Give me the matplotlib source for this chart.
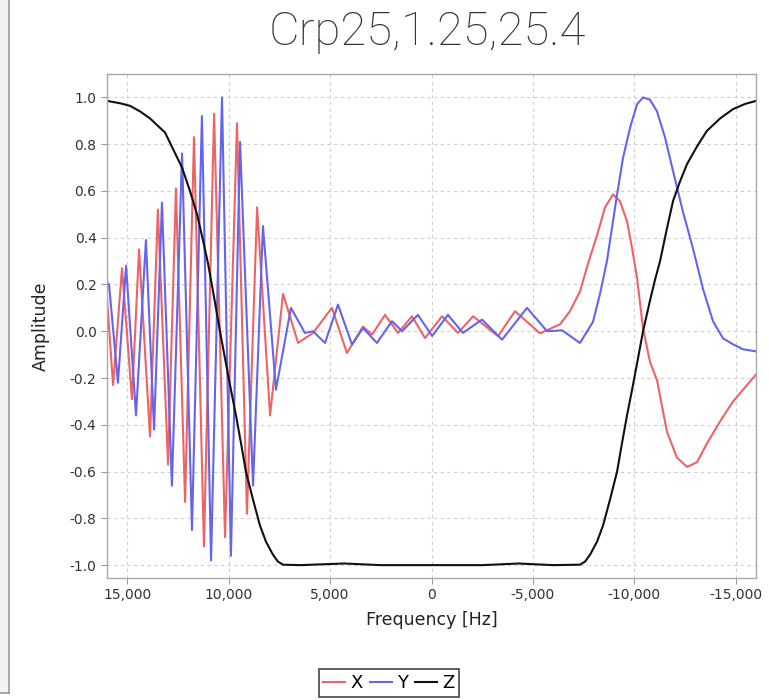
import matplotlib
matplotlib.use("Agg")
import matplotlib.pyplot as plt
from matplotlib.patches import Rectangle
from matplotlib.lines import Line2D
from matplotlib.ticker import FuncFormatter, MultipleLocator

title = "Crp25,1.25,25.4"

# X channel (red): vertices of the trace, frequency in Hz
x_freq = [16000, 15700, 15260, 14770, 14420, 13880, 13490, 12990, 12600, 12150,
          11710, 11220, 10720, 10180, 9590, 9100, 8600, 7960, 7320, 6580,
          5840, 4910, 4170, 3380, 2930, 2290, 1650, 960, 320, -520,
          -1310, -2050, -3280, -4120, -5350, -6340, -6830, -7320, -7720, -8160,
          -8560, -8950, -9290, -9640, -9890, -10130, -10430, -10770, -11120, -11610,
          -12100, -12600, -13090, -13580, -14230, -14870, -16000]
x_amp = [0.14, -0.23, 0.27, -0.29, 0.35, -0.45, 0.52, -0.57, 0.61, -0.73,
         0.83, -0.92, 0.93, -0.88, 0.89, -0.78, 0.53, -0.36, 0.16, -0.05,
         -0.007, 0.10, -0.093, 0.02, -0.014, 0.07, -0.007, 0.064, -0.029, 0.064,
         -0.007, 0.064, -0.021, 0.086, -0.009, 0.03, 0.086, 0.17, 0.29, 0.41,
         0.53, 0.585, 0.557, 0.47, 0.355, 0.23, 0.013, -0.13, -0.21, -0.43,
         -0.54, -0.58, -0.56, -0.48, -0.385, -0.30, -0.185]

# Y channel (blue)
y_freq = [16000, 15900, 15460, 15060, 14570, 14080, 13680, 13290, 12800, 12300,
          11810, 11320, 10870, 10330, 9890, 9440, 8800, 8310, 7670, 6930,
          6240, 5840, 5250, 4610, 3920, 3380, 2690, 1950, 1450, 670,
          -30, -810, -1550, -2490, -3480, -4710, -5700, -6440, -7320, -7960,
          -8310, -8650, -9150, -9440, -9790, -10130, -10430, -10770, -11120, -11510,
          -11910, -12400, -12890, -13390, -13880, -14370, -14870, -15360, -16000]
y_amp = [0.21, 0.2, -0.22, 0.28, -0.36, 0.39, -0.42, 0.55, -0.66, 0.76,
         -0.85, 0.92, -0.98, 1.0, -0.96, 0.81, -0.66, 0.45, -0.25, 0.10,
         -0.007, 0.0, -0.05, 0.114, -0.057, 0.014, -0.05, 0.043, 0.0, 0.07,
         -0.02, 0.07, -0.007, 0.05, -0.036, 0.10, 0.0, 0.004, -0.05, 0.04,
         0.16, 0.30, 0.585, 0.74, 0.87, 0.97, 1.0, 0.99, 0.94, 0.83,
         0.685, 0.51, 0.355, 0.18, 0.043, -0.03, -0.056, -0.077, -0.086]

# Z channel (black)
z_freq = [16000, 15360, 14870, 14370, 13880, 13390, 13140, 12750, 12300, 11910,
          11560, 11270, 11020, 10770, 10430, 10130, 9890, 9640, 9390, 9150,
          8800, 8460, 8160, 7820, 7570, 7320, 6480, 4300, 2500, 0,
          -2500, -4300, -6000, -7320, -7570, -7820, -8160, -8460, -8800, -9150,
          -9390, -9640, -9890, -10130, -10430, -10770, -11020, -11270, -11610, -11910,
          -12250, -12600, -13090, -13580, -14230, -14870, -15460, -16000]
z_amp = [0.985, 0.975, 0.964, 0.94, 0.91, 0.87, 0.85, 0.78, 0.70, 0.60,
         0.50, 0.39, 0.29, 0.17, 0.0, -0.14, -0.25, -0.36, -0.48, -0.6,
         -0.72, -0.83, -0.90, -0.955, -0.985, -0.998, -1.0, -0.993, -1.0, -1.0,
         -1.0, -0.993, -1.0, -0.998, -0.985, -0.955, -0.90, -0.83, -0.72, -0.6,
         -0.48, -0.36, -0.25, -0.14, 0.0, 0.13, 0.22, 0.30, 0.44, 0.557,
         0.64, 0.715, 0.79, 0.857, 0.91, 0.95, 0.972, 0.985]

series = [("X", x_freq, x_amp, "#ee6464"),
          ("Y", y_freq, y_amp, "#6464ee"),
          ("Z", z_freq, z_amp, "#111111")]

fig = plt.figure(figsize=(7.69, 7.00), dpi=100)
ax = fig.add_axes([107 / 769, 1 - 578 / 700, 649 / 769, 504 / 700])

for name, f, a, c in series:
    ax.plot(f, a, color=c, lw=1.5, label=name)

ax.set_xlim(16000, -16000)
ax.set_ylim(-1.055, 1.10)
ax.xaxis.set_major_locator(MultipleLocator(5000))
ax.yaxis.set_major_locator(MultipleLocator(0.2))
ax.xaxis.set_major_formatter(FuncFormatter(lambda v, p: f"{int(round(v)):,}"))
ax.yaxis.set_major_formatter(FuncFormatter(lambda v, p: f"{round(v, 1) + 0.0:.1f}"))

ax.grid(True, color="#cfcfcf", ls=(0, (3, 3)), lw=0.8)
ax.set_axisbelow(True)
for s in ax.spines.values():
    s.set_color("#aaaaaa")
    s.set_linewidth(1.0)
ax.tick_params(colors="#999999", labelcolor="#333333", labelsize=10, length=4, width=0.8)

ax.set_xlabel("Frequency [Hz]", fontsize=12.5, color="#222222", labelpad=6)
ax.set_ylabel("Amplitude", fontsize=12.5, color="#222222", labelpad=14)

fig.text(0.556, 0.935, title, ha="center", va="baseline", fontsize=34,
         family="Roboto", fontweight="light", color="#333333")

# legend below the plot
handles = [Line2D([], [], color=c, lw=1.5) for _, _, _, c in series]
leg = fig.legend(handles, [s[0] for s in series], loc="center",
                 bbox_to_anchor=(389 / 769, 1 - 683 / 700), ncol=3,
                 fontsize=13, handlelength=1.2, handletextpad=0.3,
                 columnspacing=0.4, borderpad=0.25, fancybox=False,
                 framealpha=1)
leg.get_frame().set_edgecolor("#444444")
leg.get_frame().set_linewidth(1.2)

# window edge on the left
fig.add_artist(Rectangle((0, 1 - 693 / 700), 8 / 769, 693 / 700,
                         transform=fig.transFigure, facecolor="#f2f2f2",
                         edgecolor="none"))
fig.add_artist(Line2D([8.5 / 769, 8.5 / 769], [1, 1 - 693 / 700],
                      transform=fig.transFigure, color="#9a9a9a", lw=1.2))
fig.add_artist(Line2D([0, 8.5 / 769], [1 - 693 / 700, 1 - 693 / 700],
                      transform=fig.transFigure, color="#9a9a9a", lw=1.2))

fig.savefig("out.png", dpi=100)
